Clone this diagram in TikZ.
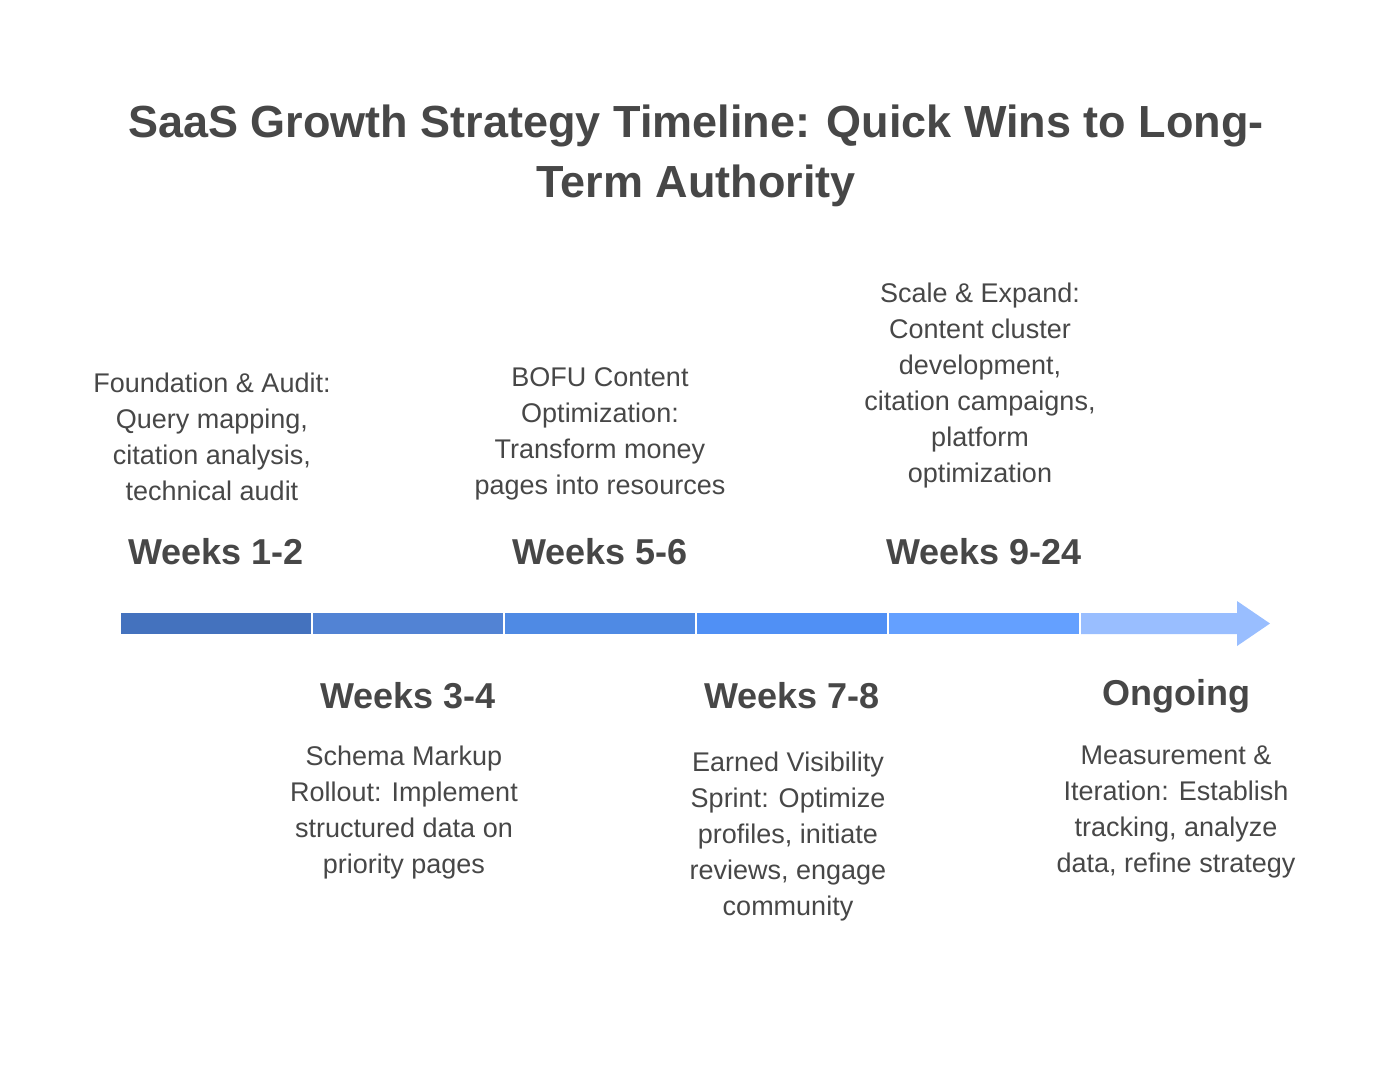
\documentclass[tikz,border=0pt]{standalone}
\usepackage{fontspec}
\setmainfont{Liberation Sans}
\begin{document}
\begin{tikzpicture}[x=1pt,y=-1pt,
  txt/.style={text=black!72,font=\fontsize{27}{36}\selectfont,align=center},
  wk/.style={text=black!72,font=\fontsize{36}{40}\selectfont\bfseries},
  seg/.style={minimum height=21pt,inner sep=0,outer sep=0}]
\useasboundingbox (0,0) rectangle (1392,1080);
\definecolor{c1}{HTML}{4472BE}\definecolor{c2}{HTML}{5283D4}\definecolor{c3}{HTML}{4F8AE4}
\definecolor{c4}{HTML}{5090F5}\definecolor{c5}{HTML}{64A0FF}\definecolor{c6}{HTML}{99BEFF}
\node[text=black!72,font=\fontsize{45}{60}\selectfont\bfseries,align=center] (title) at (696,156) {SaaS Growth Strategy Timeline: Quick Wins to Long-\\Term Authority};
\fill[c1] (121,613) rectangle (311,634);
\fill[c2] (313,613) rectangle (503,634);
\fill[c3] (505,613) rectangle (695,634);
\fill[c4] (697,613) rectangle (887,634);
\fill[c5] (889,613) rectangle (1079,634);
\fill[c6] (1081,613) -- (1237,613) -- (1237,601) -- (1270,623.5) -- (1237,646) -- (1237,634) -- (1081,634) -- cycle;
\node[wk] (w1) at (216,552) {Weeks 1-2};
\node[wk] (w3) at (408,696) {Weeks 3-4};
\node[wk] (w5) at (600,552) {Weeks 5-6};
\node[wk] (w7) at (792,696) {Weeks 7-8};
\node[wk] (w9) at (984,552) {Weeks 9-24};
\node[wk] (w0) at (1176,696) {Ongoing};
\node[txt,anchor=south] (t1) at (212,504) {Foundation \& Audit:\\Query mapping,\\citation analysis,\\technical audit};
\node[txt,anchor=south] (t5) at (600,504) {BOFU Content\\Optimization:\\Transform money\\pages into resources};
\node[txt,anchor=south] (t9) at (980,492) {Scale \& Expand:\\Content cluster\\development,\\citation campaigns,\\platform\\optimization};
\node[txt,anchor=north] (t3) at (404,742) {Schema Markup\\Rollout: Implement\\structured data on\\priority pages};
\node[txt,anchor=north] (t7) at (788,748) {Earned Visibility\\Sprint: Optimize\\profiles, initiate\\reviews, engage\\community};
\node[txt,anchor=north] (t0) at (1176,742) {Measurement \&\\Iteration: Establish\\tracking, analyze\\data, refine strategy};
\end{tikzpicture}
\end{document}
